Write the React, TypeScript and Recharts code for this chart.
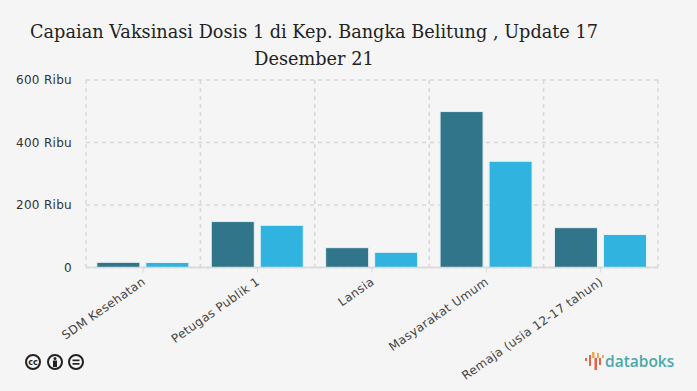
import React from "react";
import { BarChart, Bar, XAxis, YAxis, CartesianGrid } from "recharts";

const categories = ["SDM Kesehatan", "Petugas Publik 1", "Lansia", "Masyarakat Umum", "Remaja (usia 12-17 tahun)"];
const dosisA = [16500, 147000, 63500, 499000, 127500];
const dosisB = [16000, 135000, 48500, 340000, 105500];
const yTicks = [0, 200000, 400000, 600000];
const titleLines = ["Capaian Vaksinasi Dosis 1 di Kep. Bangka Belitung , Update 17", "Desember 21"];

const data = categories.map((name, i) => ({ name, a: dosisA[i], b: dosisB[i] }));
const fmt = (v: number) => (v === 0 ? "0" : `${v / 1000} Ribu`);
const FONT = "'DejaVu Sans', sans-serif";

const XTick = (props: any) => {
  const { x, y, payload } = props;
  return (
    <text
      x={x + 3}
      y={y + 9}
      textAnchor="end"
      fontFamily={FONT}
      fontSize={12}
      letterSpacing={0.35}
      fill="#444"
      transform={`rotate(-35 ${x + 3} ${y + 9})`}
    >
      {payload.value}
    </text>
  );
};

const YTick = (p: any) => (
  <text x={72} y={p.y + 4} textAnchor="end" fontFamily={FONT} fontSize={12} letterSpacing={0.3} fill="#333">
    {fmt(p.payload.value)}
  </text>
);

const CC = ({ x, children }: { x: number; children?: React.ReactNode }) => (
  <g transform={`translate(${x} 362)`}>
    <circle r="7" fill="none" stroke="#222" strokeWidth="2" />
    {children}
  </g>
);

export default function App() {
  return (
    <div style={{ position: "absolute", left: 0, top: 0, width: 697, height: 391, background: "#f5f5f5", overflow: "hidden" }}>
      {titleLines.map((t, i) => (
        <div
          key={t}
          style={{
            position: "absolute",
            left: 0,
            width: 628,
            top: 19 + i * 27,
            textAlign: "center",
            whiteSpace: "nowrap",
            fontFamily: "'DejaVu Serif', serif",
            fontSize: 17.7,
            lineHeight: "27px",
            color: "#222",
          }}
        >
          {t}
        </div>
      ))}
      <div style={{ position: "absolute", left: 0, top: 0 }}>
        <BarChart
          width={697}
          height={391}
          data={data}
          margin={{ top: 80, right: 39, bottom: 0, left: 0 }}
          barCategoryGap="9.5%"
          barGap={6}
        >
          <CartesianGrid
            stroke="#d8d8d8"
            strokeWidth={1.5}
            strokeDasharray="4 4"
            verticalCoordinatesGenerator={({ offset }: any) =>
              categories.map((_, i) => offset.left + (offset.width * i) / categories.length).concat(offset.left + offset.width)
            }
          />
          <XAxis
            dataKey="name"
            interval={0}
            height={123.5}
            tick={<XTick />}
            tickSize={5}
            axisLine={{ stroke: "#d8d8d8", strokeWidth: 1.5 }}
            tickLine={{ stroke: "#d8d8d8" }}
          />
          <YAxis
            width={86}
            domain={[0, 600000]}
            ticks={yTicks}
            axisLine={false}
            tickLine={false}
            interval={0}
            tick={<YTick />}
          />
          <Bar dataKey="a" fill="#31758a" stroke="#e6eef0" strokeWidth={1} isAnimationActive={false} />
          <Bar dataKey="b" fill="#31b3e0" stroke="#e6f2f6" strokeWidth={1} isAnimationActive={false} />
        </BarChart>
      </div>
      <svg width={697} height={391} style={{ position: "absolute", left: 0, top: 0 }}>
        <CC x={33}>
          <text textAnchor="middle" y={3} fontSize={8} fontWeight={700} fontFamily={FONT} fill="#222">cc</text>
        </CC>
        <CC x={55}>
          <circle cy={-3.5} r={1.5} fill="#222" />
          <rect x={-2} y={-1.5} width={4} height={6.5} fill="#222" />
        </CC>
        <CC x={76}>
          <rect x={-3.5} y={-2.5} width={7} height={1.7} fill="#222" />
          <rect x={-3.5} y={1} width={7} height={1.7} fill="#222" />
        </CC>
        <g>
          <rect x={585} y={358} width={2} height={3} fill="#e8604c" />
          <rect x={589} y={355} width={2} height={11} fill="#e8604c" />
          <rect x={592} y={352} width={2.5} height={6} fill="#efa94a" />
          <rect x={594.5} y={358} width={2.5} height={12} fill="#e8604c" />
          <rect x={597} y={353} width={2} height={5} fill="#efa94a" />
          <rect x={599} y={358} width={2} height={7} fill="#e8604c" />
          <rect x={602} y={355} width={2} height={3} fill="#efa94a" />
        </g>
        <text x={605} y={367} fontFamily="'Open Sans', sans-serif" fontWeight={600} fontSize={15.5} fill="#4aa9ab">databoks</text>
      </svg>
    </div>
  );
}
